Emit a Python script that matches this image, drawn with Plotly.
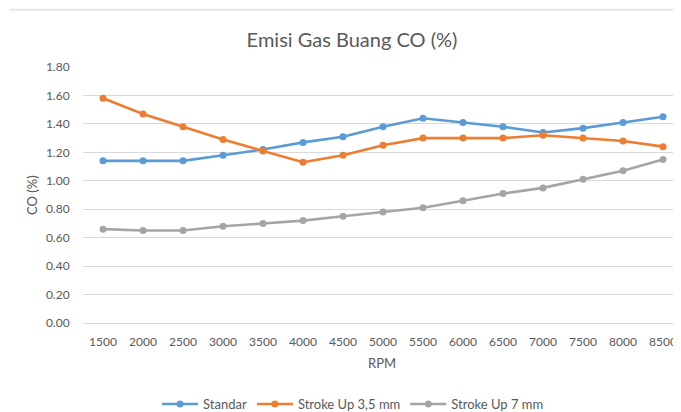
import plotly.graph_objects as go

rpm = [1500, 2000, 2500, 3000, 3500, 4000, 4500, 5000, 5500, 6000, 6500, 7000, 7500, 8000, 8500]
standar = [1.14, 1.14, 1.14, 1.18, 1.22, 1.27, 1.31, 1.38, 1.44, 1.41, 1.38, 1.34, 1.37, 1.41, 1.45]
stroke_35 = [1.58, 1.47, 1.38, 1.29, 1.21, 1.13, 1.18, 1.25, 1.30, 1.30, 1.30, 1.32, 1.30, 1.28, 1.24]
stroke_7 = [0.66, 0.65, 0.65, 0.68, 0.70, 0.72, 0.75, 0.78, 0.81, 0.86, 0.91, 0.95, 1.01, 1.07, 1.15]
y_ticks = [0.0, 0.2, 0.4, 0.6, 0.8, 1.0, 1.2, 1.4, 1.6, 1.8]

x_labels = [str(v) for v in rpm]
FONT = "Lato"
TXT = "#595959"

# page body has an 8px default margin; the figure is sized to fit the window
W, H = 673, 404
L, R, T, B = 75, 0, 59, 89
PW, PH = W - L - R, H - T - B


def px_x(x):
    return (x - L) / PW


def px_y(y):
    return (H - B - y) / PH


fig = go.Figure()
for name, vals, col in [
    ("Standar", standar, "#5B9BD5"),
    ("Stroke Up 3,5 mm", stroke_35, "#ED7D31"),
    ("Stroke Up 7 mm", stroke_7, "#A5A5A5"),
]:
    fig.add_trace(go.Scatter(
        x=x_labels, y=vals, name=name, mode="lines+markers",
        line=dict(color=col, width=2.6),
        marker=dict(color=col, size=7),
    ))

fig.update_layout(
    width=W, height=H,
    template="none",
    paper_bgcolor="white", plot_bgcolor="white",
    margin=dict(l=L, r=R, t=T, b=B, autoexpand=False),
    font=dict(family=FONT, color=TXT, size=12),
    title=dict(text="Emisi Gas Buang CO (%)", font=dict(family=FONT, size=20, color=TXT),
               xref="container", yref="container", x=344 / W, y=1 - 32 / H,
               xanchor="center", yanchor="middle"),
    showlegend=True,
    legend=dict(orientation="h", xref="paper", yref="paper",
                x=px_x(345), xanchor="center",
                y=px_y(381), yanchor="top",
                font=dict(family=FONT, size=13, color=TXT),
                bgcolor="rgba(0,0,0,0)", itemwidth=36),
    xaxis=dict(type="category", range=[-0.5, 14.45], showgrid=False,
               showline=True, linecolor="#D9D9D9", linewidth=1,
               ticks="outside", ticklen=8, tickcolor="rgba(0,0,0,0)",
               tickfont=dict(family=FONT, size=12, color=TXT), zeroline=False),
    yaxis=dict(range=[0, 1.8], tickvals=y_ticks, tickformat=".2f",
               showgrid=True, gridcolor="#D9D9D9", gridwidth=1,
               showline=False, zeroline=False,
               ticks="outside", ticklen=10, tickcolor="rgba(0,0,0,0)",
               tickfont=dict(family=FONT, size=12, color=TXT)),
    annotations=[
        dict(text="RPM", xref="paper", yref="paper", x=0.5, y=px_y(355),
             xanchor="center", yanchor="middle", showarrow=False,
             font=dict(family=FONT, size=13, color=TXT)),
        dict(text="CO (%)", xref="paper", yref="paper", x=px_x(24), y=0.5,
             xanchor="center", yanchor="middle", showarrow=False, textangle=-90,
             font=dict(family=FONT, size=13, color=TXT)),
    ],
    shapes=[dict(type="line", xref="paper", yref="paper",
                 x0=px_x(2), x1=1.0, y0=px_y(1.7), y1=px_y(1.7),
                 line=dict(color="#E6E6E6", width=2))],
)

fig.write_html("out.html")
